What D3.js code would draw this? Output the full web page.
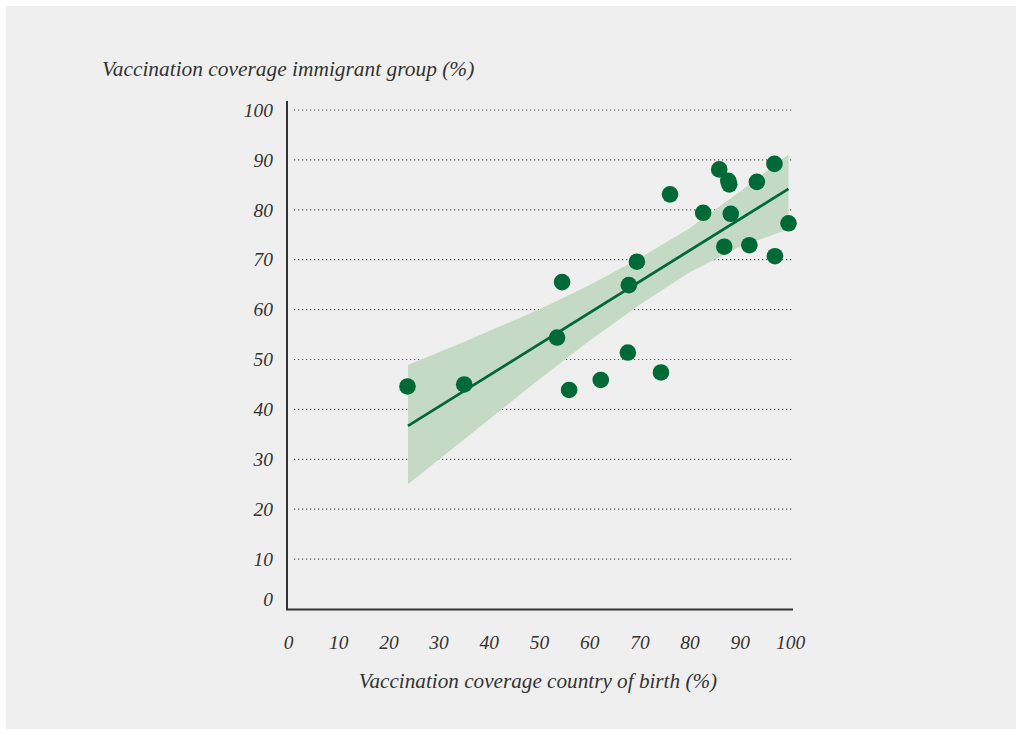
<!DOCTYPE html>
<meta charset="utf-8">
<style>
body { margin: 0; background: #fff; }
text { font-family: "Liberation Serif", serif; font-style: italic; fill: #333; }
.grid line { stroke: #555; stroke-width: 1.2; stroke-dasharray: 1.2,2.8; }
</style>
<svg width="1022" height="735" id="chart"></svg>
<script src="https://d3js.org/d3.v7.min.js"></script>
<script>
// country of birth coverage vs immigrant group coverage
var birthCov = [23.8, 35.1, 53.6, 54.6, 56.0, 62.3, 67.7, 67.9, 69.5, 74.3, 76.1,
                82.7, 85.9, 87.7, 87.9, 88.2, 86.9, 91.9, 93.4, 96.9, 97.0, 99.7];
var immigrantCov = [44.6, 45.0, 54.4, 65.5, 43.9, 45.9, 51.4, 64.9, 69.6, 47.4, 83.1,
                    79.4, 88.1, 85.8, 85.1, 79.2, 72.6, 72.9, 85.6, 89.2, 70.7, 77.3];

// fitted line and confidence band
var fitX = [23.9, 99.7];
var fitY = [36.7, 84.2];
var bandX = [23.9, 35, 50, 60, 70, 80, 90, 99.7];
var bandUpper = [48.9, 53.5, 60.0, 64.9, 70.3, 76.3, 83.6, 91.1];
var bandLower = [25.0, 33.9, 46.0, 53.7, 60.9, 67.5, 72.6, 76.1];

var ticks = [0, 10, 20, 30, 40, 50, 60, 70, 80, 90, 100];

var svg = d3.select("#chart");

svg.append("rect")
    .attr("x", 6).attr("y", 6)
    .attr("width", 1010).attr("height", 723)
    .attr("fill", "#efefef");

var x = d3.scaleLinear().domain([0, 100]).range([288, 790]);
var y = d3.scaleLinear().domain([0, 100]).range([609, 110]);

// dotted gridlines
svg.append("g")
    .attr("class", "grid")
  .selectAll("line")
  .data(ticks.filter(d => d > 0))
  .enter().append("line")
    .attr("x1", 294).attr("x2", 794)
    .attr("y1", d => y(d)).attr("y2", d => y(d));

// confidence band
var band = bandX.map((d, i) => ({x: d, lo: bandLower[i], hi: bandUpper[i]}));
svg.append("path")
    .datum(band)
    .attr("fill", "#c5dac4")
    .attr("d", d3.area().x(d => x(d.x)).y0(d => y(d.lo)).y1(d => y(d.hi)));

// regression line
svg.append("path")
    .datum(fitX.map((d, i) => [d, fitY[i]]))
    .attr("fill", "none")
    .attr("stroke", "#006a36")
    .attr("stroke-width", 2.8)
    .attr("d", d3.line().x(d => x(d[0])).y(d => y(d[1])));

// points
svg.append("g")
    .attr("fill", "#006a36")
  .selectAll("circle")
  .data(birthCov)
  .enter().append("circle")
    .attr("cx", d => x(d))
    .attr("cy", (d, i) => y(immigrantCov[i]))
    .attr("r", 8.3);

// axes
var yAxis = g => g
    .attr("transform", "translate(287,0)")
    .call(d3.axisLeft(y).tickValues(ticks).tickSize(0).tickPadding(14))
    .call(g => g.select(".domain").attr("d", "M0,101V610").attr("stroke", "#333").attr("stroke-width", 2))
    .call(g => g.selectAll("text").attr("font-size", 19.5).attr("fill", "#333")
        .attr("dy", d => d === 0 ? "-0.2em" : "0.32em"));

var xAxis = g => g
    .attr("transform", "translate(0,609.5)")
    .call(d3.axisBottom(x).tickValues(ticks).tickSize(0).tickPadding(26))
    .call(g => g.select(".domain").attr("d", "M286,0H793").attr("stroke", "#333").attr("stroke-width", 2))
    .call(g => g.selectAll("text").attr("font-size", 19.5).attr("fill", "#333"));

svg.append("g").call(yAxis);
svg.append("g").call(xAxis);
svg.selectAll(".tick text").attr("font-family", "Liberation Serif").attr("font-style", "italic");

svg.append("text")
    .attr("x", 102).attr("y", 76)
    .attr("font-size", 21.4)
    .text("Vaccination coverage immigrant group (%)");

svg.append("text")
    .attr("x", 538).attr("y", 688)
    .attr("text-anchor", "middle")
    .attr("font-size", 21.2)
    .text("Vaccination coverage country of birth (%)");
</script>
